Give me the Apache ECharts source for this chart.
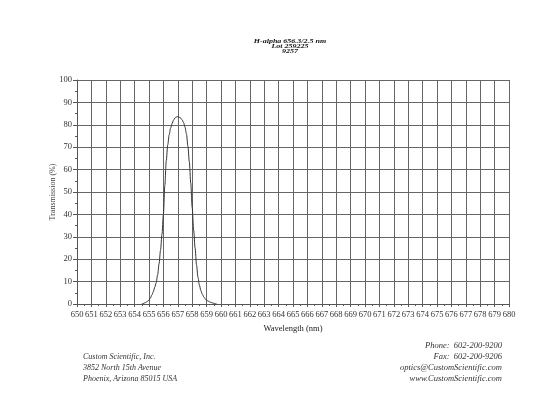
<!DOCTYPE html>
<html>
<head>
<meta charset="utf-8">
<script src="https://cdn.jsdelivr.net/npm/echarts@6/dist/echarts.min.js"></script>
<style>
  html, body { margin: 0; padding: 0; background: #fff; }
  #main { width: 553px; height: 399px; }
</style>
</head>
<body>
<div id="main"></div>
<script>
// wavelength (nm) / transmission (%)
const wavelength = [654.5, 654.6, 654.7, 654.8, 654.9, 655.0, 655.1, 655.2, 655.3, 655.4,
  655.5, 655.6, 655.7, 655.8, 655.9, 656.0, 656.1, 656.2, 656.3, 656.4,
  656.5, 656.6, 656.7, 656.8, 656.9, 657.0, 657.1, 657.2, 657.3, 657.4,
  657.5, 657.6, 657.7, 657.8, 657.9, 658.0, 658.1, 658.2, 658.3, 658.4,
  658.5, 658.6, 658.7, 658.8, 658.9, 659.0, 659.1, 659.2, 659.3, 659.4,
  659.5, 659.6, 659.7];
const transmission = [0, 0.2, 0.5, 0.8, 1.2, 1.8, 2.7, 4, 5.5, 7.5,
  9.5, 13, 18, 24, 31, 40, 53, 64, 71, 75.5,
  78.5, 80.5, 82, 83, 83.5, 83.6, 83.4, 83, 82.2, 81,
  79, 76, 70.5, 63.5, 54, 43, 33, 25, 17.5, 12,
  8.5, 6, 4.4, 3.2, 2.3, 1.7, 1.3, 1, 0.7, 0.5,
  0.3, 0.1, 0];

const titleLines = ['H-alpha 656.3/2.5 nm', 'Lot 259225', '9257'];
const addressLines = ['Custom Scientific, Inc.', '3852 North 15th Avenue', 'Phoenix, Arizona 85015 USA'];
const contactLines = ['Phone:  602-200-9200', 'Fax:  602-200-9206', 'optics@CustomScientific.com', 'www.CustomScientific.com'];

const serif = '"Liberation Serif", "DejaVu Serif", serif';
const chart = echarts.init(document.getElementById('main'));

let points = []
wavelength.forEach((w, i) => {
  points.push([w, transmission[i]])
})

// header is squashed vertically in the scan
let header = {
  type: 'group', x: 290, y: 42, scaleY: 0.65,
  children: titleLines.map((t, i) => ({
    type: 'text', x: 0, y: i * 7.3,
    style: { text: t, font: 'italic bold 8px ' + serif, fill: '#111', align: 'center', verticalAlign: 'middle' }
  }))
}

// footer text, one element per line so the right block aligns on its right edge
let footer = []
addressLines.forEach((t, i) => {
  footer.push({
    type: 'text', left: 83, top: 353 + i * 11,
    style: { text: t, font: 'italic 8px ' + serif, fill: '#333' }
  })
})
contactLines.forEach((t, i) => {
  footer.push({
    type: 'text', right: 51, top: 341 + i * 11,
    style: { text: t, font: 'italic 8.5px ' + serif, fill: '#333' }
  })
})

chart.setOption({
  animation: false,
  grid: { left: 77, top: 80, right: 44, bottom: 95 },
  xAxis: {
    type: 'value',
    min: 650, max: 680, interval: 1,
    name: 'Wavelength (nm)',
    nameLocation: 'middle',
    nameGap: 19,
    nameTextStyle: { fontFamily: serif, fontSize: 8.5, color: '#222' },
    axisLine: { lineStyle: { color: '#555', width: 1 } },
    axisTick: { length: 3, lineStyle: { color: '#555' } },
    minorTick: { show: true, splitNumber: 2, length: 2, lineStyle: { color: '#555' } },
    axisLabel: { fontFamily: serif, fontSize: 8.5, color: '#333', margin: 6 },
    splitLine: { lineStyle: { color: '#666', width: 1 } }
  },
  yAxis: {
    type: 'value',
    min: 0, max: 100, interval: 10,
    name: 'Transmission (%)',
    nameLocation: 'middle',
    nameGap: 20,
    nameMoveOverlap: false,
    nameTextStyle: { fontFamily: serif, fontSize: 8, color: '#444' },
    axisLine: { show: true, lineStyle: { color: '#555', width: 1 } },
    axisTick: { show: true, length: 4, lineStyle: { color: '#555' } },
    minorTick: { show: true, splitNumber: 2, length: 2, lineStyle: { color: '#555' } },
    axisLabel: { fontFamily: serif, fontSize: 8.5, color: '#333', margin: 5 },
    splitLine: { lineStyle: { color: '#666', width: 1 } }
  },
  series: [{
    type: 'line',
    data: points,
    smooth: 0.3,
    smoothMonotone: 'x',
    showSymbol: false,
    lineStyle: { color: '#333', width: 1 }
  }],
  graphic: [header].concat(footer)
});
</script>
</body>
</html>
